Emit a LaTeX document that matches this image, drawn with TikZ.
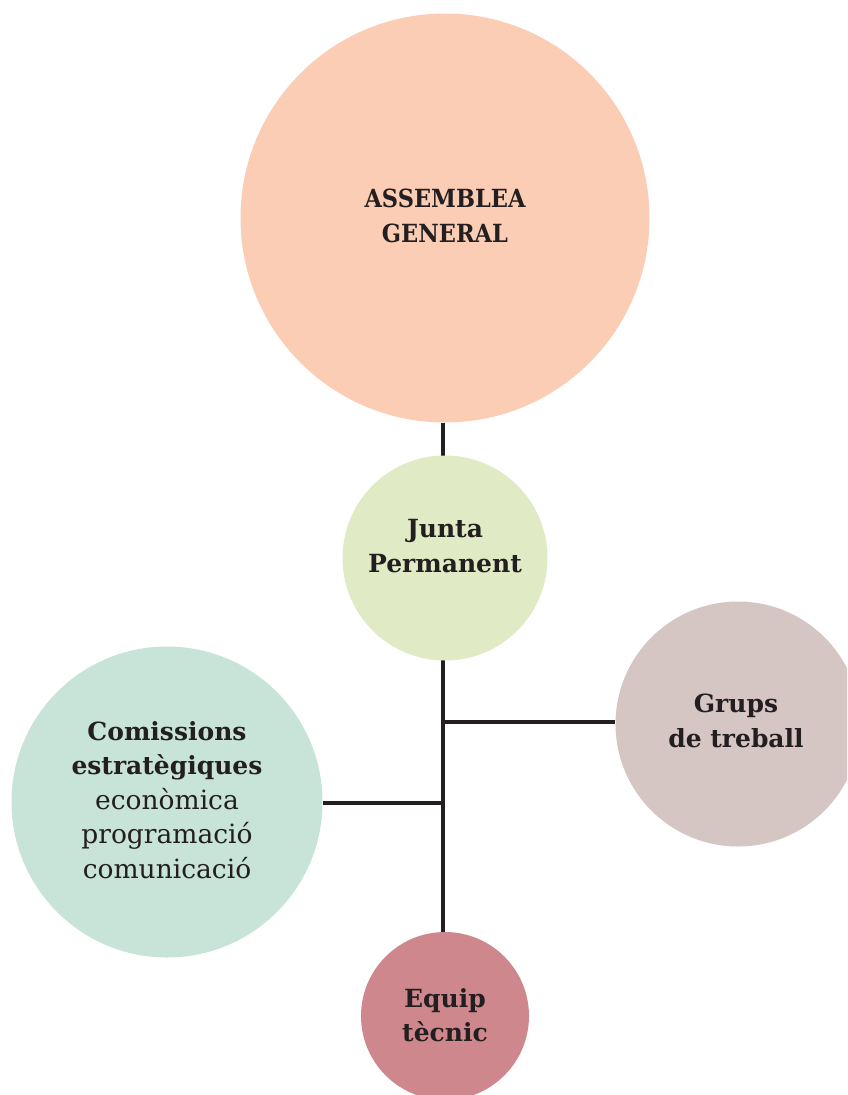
\documentclass[tikz,border=0pt]{standalone}
\usepackage{fontspec}
\setmainfont{DejaVu Serif}
\newfontfamily\capsfont{DejaVu Serif}[FakeStretch=0.9]
\usetikzlibrary{backgrounds}
\definecolor{ink}{HTML}{231F20}
\definecolor{cAsm}{HTML}{FACDB4}
\definecolor{cJunta}{HTML}{E0EAC4}
\definecolor{cGrups}{HTML}{D5C6C4}
\definecolor{cCom}{HTML}{C8E3D8}
\definecolor{cEquip}{HTML}{CE888D}
\tikzset{
  bubble/.style={circle, inner sep=0pt, text=ink},
  label text/.style={text=ink, align=center, font=\bfseries\fontsize{25}{34.5}\selectfont},
  link/.style={draw=ink, line width=4pt},
}
\newcommand{\regline}[1]{{\mdseries\fontsize{26.5}{34.5}\selectfont #1}}
\begin{document}
\begin{tikzpicture}[x=1pt,y=-1pt]
\useasboundingbox (0,0) rectangle (847,1095);
\begin{scope}
\clip (0,0) rectangle (847,1095);
\node[bubble, fill=cAsm, minimum size=409pt] (asm) at (445,218) {};
\node[label text, font=\capsfont\bfseries\fontsize{25}{35}\selectfont] (asmT) at (445,216) {ASSEMBLEA\\GENERAL};
\node[bubble, fill=cJunta, minimum size=205pt] (junta) at (445,558) {};
\node[label text] (juntaT) at (445,546) {Junta\\Permanent};
\node[bubble, fill=cGrups, minimum size=245pt] (grups) at (738,724) {};
\node[label text] (grupsT) at (736,721) {Grups\\de treball};
\node[bubble, fill=cCom, minimum size=311pt] (com) at (167,802) {};
\node[label text] (comT) at (167,800) {Comissions\\estratègiques\\\regline{econòmica}\\\regline{programació}\\\regline{comunicació}};
\node[bubble, fill=cEquip, minimum size=168pt] (equip) at (445,1016) {};
\node[label text] (equipT) at (445,1015) {Equip\\tècnic};
\end{scope}
\coordinate (b1) at (443,722);
\coordinate (b2) at (443,803);
\begin{scope}[on background layer]
\draw[link] (asm.south -| b1) -- (equip.north -| b1);
\draw[link] (b1) -- (b1 -| grups.west);
\draw[link] (b2) -- (b2 -| com.east);
\end{scope}
\end{tikzpicture}
\end{document}
